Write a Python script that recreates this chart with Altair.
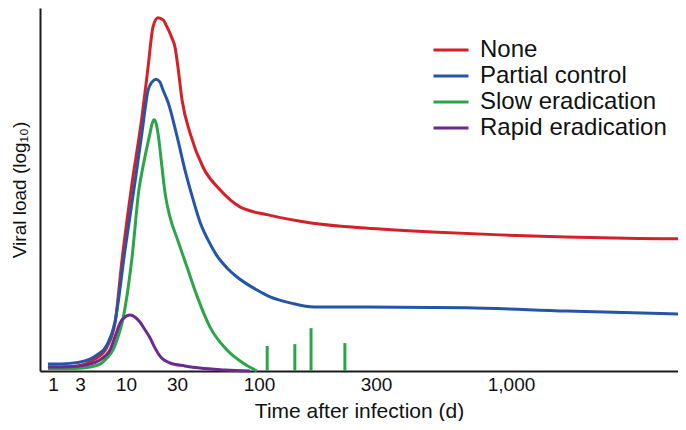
import altair as alt
import pandas as pd

series_names = ["None", "Partial control", "Slow eradication", "Rapid eradication"]
series_colors = ["#d42028", "#2356a8", "#2ca548", "#6b2a90"]

none_days = [0.82, 2.0, 3.42, 3.9, 4.68, 6.08, 7.5, 9.01, 11.4, 14.1, 16.1, 17.9, 19.9, 22.2,
             24.2, 26.9, 28.7, 30.4, 32.3, 36.3, 43.9, 56.4, 75.6, 109, 163, 271, 494, 907,
             1646, 3150, 4500]
none_load = [0.11, 0.12, 0.19, 0.25, 0.36, 0.66, 1.32, 3.06, 5.18, 7.00, 8.38, 9.48, 9.73, 9.67,
             9.48, 9.17, 8.93, 8.38, 7.47, 6.56, 5.62, 4.99, 4.52, 4.30, 4.08, 3.94, 3.83, 3.75,
             3.69, 3.65, 3.64]

partial_days = [0.82, 2.0, 3.42, 3.9, 4.68, 6.08, 7.5, 9.74, 12.1, 14.1, 16.1, 17.5, 19.1, 20.8,
                22.2, 24.7, 30.0, 33.7, 37.9, 42.1, 47.3, 54.0, 62.5, 72.4, 97.1, 111, 135, 168,
                271, 669, 1646, 4500]
partial_load = [0.19, 0.21, 0.28, 0.33, 0.44, 0.72, 1.35, 3.33, 5.18, 6.56, 7.74, 7.96, 8.04, 7.96,
                7.74, 7.41, 6.47, 5.54, 4.74, 4.10, 3.61, 3.17, 2.84, 2.59, 2.23, 2.04, 1.87, 1.76,
                1.76, 1.74, 1.65, 1.57]

slow_days = [0.82, 2.45, 3.9, 5.06, 6.08, 7.12, 8.11, 9.01, 11.4, 13.2, 14.4, 16.8, 17.5, 18.3,
             19.1, 19.9, 21.7, 23.2, 25.8, 30.0, 34.7, 40.2, 48.7, 62.5, 79.1, 97.1]
slow_load = [0.06, 0.07, 0.11, 0.19, 0.36, 0.58, 0.94, 1.32, 3.14, 4.99, 5.62, 6.56, 6.80, 6.92,
             6.83, 6.56, 5.62, 4.90, 4.24, 3.66, 2.87, 2.07, 1.21, 0.58, 0.22, 0.0]

rapid_days = [0.82, 2.0, 3.9, 5.06, 5.77, 6.58, 7.5, 8.55, 9.74, 10.9, 12.1, 13.5, 15.1, 16.8,
              18.7, 20.8, 25.8, 33.7, 42.1, 60.7, 87.6]
rapid_load = [0.11, 0.12, 0.19, 0.30, 0.41, 0.58, 0.94, 1.32, 1.49, 1.54, 1.49, 1.35, 1.13, 0.91,
              0.63, 0.41, 0.22, 0.14, 0.08, 0.03, 0.0]

blip_days = [108, 140, 163, 224]
blip_load = [0.69, 0.74, 1.18, 0.77]

tick_values = [1, 3, 10, 30, 100, 300, 1000]

rows = []
for name, days, load in zip(series_names,
                            [none_days, partial_days, slow_days, rapid_days],
                            [none_load, partial_load, slow_load, rapid_load]):
    for d, v in zip(days, load):
        rows.append({"series": name, "day": d, "load": v})
df = pd.DataFrame(rows)
blips = pd.DataFrame({"day": blip_days, "load": blip_load, "base": [0.0] * len(blip_days)})

FONT = "Liberation Sans"

x_scale = alt.Scale(type="log",
                    domain=[0.6, 1, 3, 10, 30, 100, 300, 1000, 4500],
                    range=[0, 13, 40, 86, 137, 219, 336, 471, 638],
                    nice=False)
y_scale = alt.Scale(domain=[0, 10], nice=False, zero=True)

x_axis = alt.Axis(values=tick_values, format=",d", ticks=False, grid=False,
                  labelFontSize=19, labelPadding=4, labelColor="#111", labelFont=FONT,
                  labelOverlap=False, labelFlush=False,
                  title="Time after infection (d)", titleFontSize=21, titlePadding=6,
                  titleFont=FONT, titleColor="#111", titleFontWeight="normal",
                  domainColor="#1a1a1a", domainWidth=2)
y_axis = alt.Axis(ticks=False, labels=False, grid=False,
                  title="Viral load (log₁₀)", titleFontSize=19, titlePadding=11,
                  titleFont=FONT, titleColor="#111", titleFontWeight="normal",
                  domainColor="#1a1a1a", domainWidth=2)

lines = alt.Chart(df).mark_line(strokeWidth=3, interpolate="monotone").encode(
    x=alt.X("day:Q", scale=x_scale, axis=x_axis),
    y=alt.Y("load:Q", scale=y_scale, axis=y_axis),
    color=alt.Color("series:N",
                    scale=alt.Scale(domain=series_names, range=series_colors),
                    legend=alt.Legend(title=None, orient="none", legendX=399, legendY=30,
                                      symbolType="M-2.5,0H2.5", symbolSize=196,
                                      symbolStrokeWidth=3, labelFontSize=24, labelFont=FONT,
                                      labelColor="#111", labelOffset=17, rowPadding=2,
                                      labelLimit=400, padding=0)),
    detail="series:N",
)

rules = alt.Chart(blips).mark_rule(strokeWidth=3, color="#2ca548").encode(
    x=alt.X("day:Q", scale=x_scale),
    y=alt.Y("load:Q", scale=y_scale),
    y2="base:Q",
)

chart = alt.layer(lines, rules).properties(
    width=638, height=363,
    padding={"left": 32, "top": 0, "right": 0, "bottom": 50},
    autosize=alt.AutoSizeParams(type="none"),
    background="white",
).configure_view(stroke=None)

chart.save("out.html", embed_options={"renderer": "svg", "actions": False})
